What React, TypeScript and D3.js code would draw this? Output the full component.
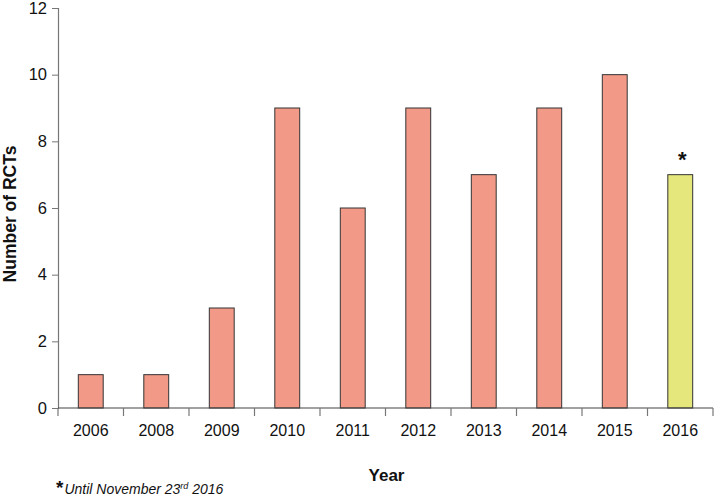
import { useEffect, useRef } from "react";
import * as d3 from "d3";

const YEARS = ["2006", "2008", "2009", "2010", "2011", "2012", "2013", "2014", "2015", "2016"];
const COUNTS = [1, 1, 3, 9, 6, 9, 7, 9, 10, 7];
const Y_TICKS = [0, 2, 4, 6, 8, 10, 12];
const PARTIAL_YEAR = "2016";

const W = 714;
const H = 503;
const M = { top: 8, right: 1, bottom: 95, left: 58 };
const IW = W - M.left - M.right;
const IH = H - M.top - M.bottom;
const FONT = "'Liberation Sans', Arial, Helvetica, sans-serif";

export default function App() {
  const svgRef = useRef<SVGSVGElement>(null);

  useEffect(() => {
    if (!svgRef.current) return;
    const svg = d3.select(svgRef.current);
    svg.selectAll("*").remove();

    const x = d3.scaleBand().domain(YEARS).range([0, IW]).paddingInner(0.62).paddingOuter(0.31);
    const xEdge = d3.scaleLinear().domain([0, YEARS.length]).range([0, IW]);
    const y = d3.scaleLinear().domain([0, 12]).range([IH, 0]);

    const g = svg.append("g").attr("transform", `translate(${M.left},${M.top})`);

    // bars
    g.selectAll("rect.bar")
      .data(YEARS)
      .join("rect")
      .attr("class", "bar")
      .attr("x", (d) => x(d)!)
      .attr("y", (_, i) => y(COUNTS[i]))
      .attr("width", x.bandwidth())
      .attr("height", (_, i) => IH - y(COUNTS[i]))
      .attr("fill", (d) => (d === PARTIAL_YEAR ? "#e5e67c" : "#f29a87"))
      .attr("stroke", "#333")
      .attr("stroke-width", 1);

    // asterisk over the partial year
    const pi = YEARS.indexOf(PARTIAL_YEAR);
    g.append("text")
      .attr("x", x(PARTIAL_YEAR)! + x.bandwidth() / 2 + 2)
      .attr("y", y(COUNTS[pi]) - 8)
      .attr("text-anchor", "middle")
      .attr("font-family", FONT)
      .attr("font-size", 22)
      .attr("font-weight", "bold")
      .attr("fill", "#111")
      .text("*");

    const axisColor = "#777";

    // y axis
    const ya = g.append("g")
      .call(d3.axisLeft(y).tickValues(Y_TICKS).tickSize(6).tickPadding(5).tickFormat(d3.format("d")));
    ya.select(".domain").attr("stroke", axisColor).attr("stroke-width", 1.2);
    ya.selectAll(".tick line").attr("stroke", axisColor);
    ya.selectAll("text").attr("font-family", FONT).attr("font-size", 16.5).attr("fill", "#111");

    // x axis: line + ticks at band edges
    const xa = g.append("g").attr("transform", `translate(0,${IH})`);
    xa.append("line")
      .attr("x1", 0).attr("x2", IW)
      .attr("stroke", "#444").attr("stroke-width", 1.2);
    xa.selectAll("line.tk")
      .data(d3.range(0, YEARS.length + 1))
      .join("line")
      .attr("class", "tk")
      .attr("x1", (d) => xEdge(d)).attr("x2", (d) => xEdge(d))
      .attr("y1", 0).attr("y2", 8)
      .attr("stroke", axisColor).attr("stroke-width", 1.2);
    xa.selectAll("text.lbl")
      .data(YEARS)
      .join("text")
      .attr("class", "lbl")
      .attr("x", (d) => x(d)! + x.bandwidth() / 2)
      .attr("y", 28)
      .attr("text-anchor", "middle")
      .attr("font-family", FONT)
      .attr("font-size", 16)
      .attr("fill", "#111")
      .text((d) => d);

    // axis titles
    svg.append("text")
      .attr("x", M.left + IW / 2 + 1)
      .attr("y", 481)
      .attr("text-anchor", "middle")
      .attr("font-family", FONT)
      .attr("font-size", 17)
      .attr("font-weight", "bold")
      .attr("fill", "#111")
      .text("Year");

    svg.append("text")
      .attr("transform", `translate(16,${M.top + IH / 2 + 6}) rotate(-90)`)
      .attr("text-anchor", "middle")
      .attr("font-family", FONT)
      .attr("font-size", 17.5)
      .attr("font-weight", "bold")
      .attr("fill", "#111")
      .text("Number of RCTs");

    // footnote
    const fn = svg.append("text")
      .attr("x", 56)
      .attr("y", 494)
      .attr("font-family", FONT)
      .attr("fill", "#111");
    fn.append("tspan").attr("font-size", 19).attr("font-weight", "bold").attr("dy", 0).text("*");
    fn.append("tspan").attr("font-size", 14).attr("font-style", "italic").attr("dx", 1).text("Until November 23");
    fn.append("tspan").attr("font-size", 9).attr("font-style", "italic").attr("dy", -5).text("rd");
    fn.append("tspan").attr("font-size", 14).attr("font-style", "italic").attr("dy", 5).text(" 2016");
  }, []);

  return (
    <svg
      ref={svgRef}
      width={W}
      height={H}
      style={{ position: "absolute", left: 0, top: 0, background: "#fff" }}
    />
  );
}
